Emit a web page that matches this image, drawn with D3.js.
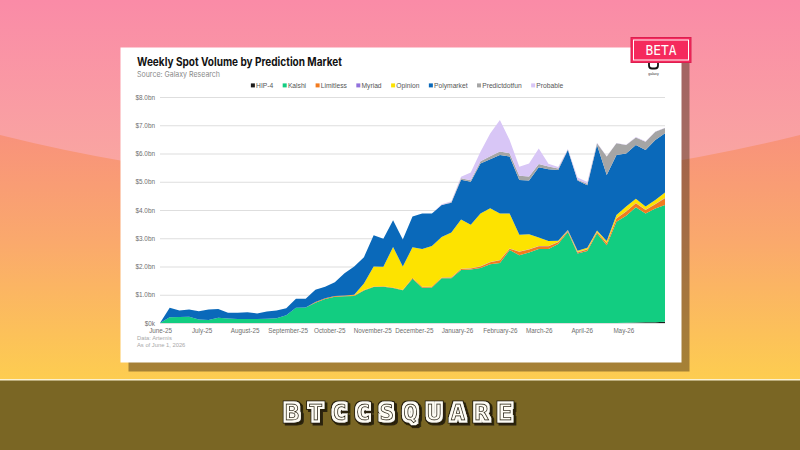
<!DOCTYPE html>
<html>
<head>
<meta charset="utf-8">
<script src="https://cdn.jsdelivr.net/npm/d3@7"></script>
<style>
    body { margin: 0; background: #fff; }
    svg { display: block; }
</style>
</head>
<body>
<div id="chart"></div>
<script>
// weekly values, $bn, one entry per week starting June 1, 2025
let hip4 = [0,0,0,0,0,0,0,0,0,0, 0,0,0,0,0,0,0,0,0,0, 0,0,0,0,0,0,0,0,0,0, 0,0,0,0,0,0,0,0,0,0, 0,0,0,0,0,0,0,0,.01,.02, .03,.03,.04];
let kalshi = [0,.20,.21,.22,.12,.11,.19,.16,.14,.14, .14,.15,.17,.27,.54,.55,.72,.85,.93,.95, .96,1.15,1.27,1.28,1.24,1.16,1.57,1.25,1.26,1.58, 1.58,1.88,1.89,1.95,2.08,2.12,2.58,2.40,2.50,2.62, 2.62,2.80,3.22,2.46,2.55,3.18,2.75,3.58,3.79,4.08, 3.85,4.02,4.14];
let limitless = [0,0,0,0,0,0,0,0,0,0, 0,0,0,0,0,0,.02,.03,.03,.02, .02,.02,.02,.02,.02,.02,.03,.03,.03,.03, .03,.03,.04,.05,.07,.10,.05,.12,.10,.10, .10,.06,.04,.04,.05,.04,.07,.12,.15,.14, .12,.15,.24];
let myriad = [0,0,0,0,0,0,0,0,0,0, 0,0,0,0,0,0,0,0,0,0, 0,0,0,0,0,0,0,0,0,0, .01,.01,.01,.01,.01,.01,.01,.01,.01,.01, .01,.01,.01,.01,.01,.01,.01,.01,.01,.01, .01,.01,.01];
let opinion = [0,0,0,0,0,0,0,0,0,0, 0,0,0,0,0,0,0,0,0,0, .02,.23,.71,.69,1.43,.82,1.08,1.34,1.44,1.43, 1.58,1.74,1.54,1.87,1.90,1.65,1.24,.59,.53,.30, .17,.04,.02,.05,.05,.04,.07,.11,.16,.15, .11,.14,.19];
let polymarket = [0,.34,.23,.26,.30,.37,.31,.20,.22,.24, .20,.26,.27,.25,.32,.31,.44,.40,.48,.79, 1.00,.93,1.11,.99,.95,.96,1.09,1.26,1.15,1.14, 1.06,1.41,1.52,1.77,1.74,2.07,2.01,1.94,1.90,2.48, 2.54,2.51,2.83,2.48,2.22,3.03,2.34,2.13,1.88,1.90, 2.00,2.13,2.10];
let predictdotfun = [0,0,0,0,0,0,0,0,0,0, 0,0,0,0,0,0,0,0,0,0, 0,0,0,0,0,0,0,0,0,0, .02,.05,.05,.08,.10,.12,.12,.15,.15,.12, .10,.05,.02,.03,.05,.06,.65,.41,.30,.27, .30,.29,.18];
let probable = [0,0,0,0,0,0,0,0,0,0, 0,0,0,0,0,0,0,0,0,0, 0,0,0,0,0,0,0,0,0,.02, .03,.06,.28,.33,.81,1.12,.47,.32,.46,.55, .10,.05,.02,.08,.06,.02,.01,.01,.01,.01, .01,.01,.01];

let seriesNames = ["HIP-4", "Kalshi", "Limitless", "Myriad", "Opinion", "Polymarket", "Predictdotfun", "Probable"];
let seriesValues = [hip4, kalshi, limitless, myriad, opinion, polymarket, predictdotfun, probable];
let seriesColors = ["#1c1c1c", "#12cd81", "#f27b1f", "#9272dc", "#fde300", "#0a69ba", "#a5a5a5", "#d8c6f6"];

let monthLabels = ["June-25", "July-25", "August-25", "September-25", "October-25", "November-25",
    "December-25", "January-26", "February-26", "March-26", "April-26", "May-26"];
let yTickValues = [0, 1, 2, 3, 4, 5, 6, 7, 8];
let yTickLabels = ["$0k", "$1.0bn", "$2.0bn", "$3.0bn", "$4.0bn", "$5.0bn", "$6.0bn", "$7.0bn", "$8.0bn"];
let brandLetters = ["B", "T", "C", "C", "S", "Q", "U", "A", "R", "E"];

let firstWeek = new Date(2025, 5, 1);
let weeks = d3.range(kalshi.length).map(function(i) { return d3.timeDay.offset(firstWeek, i * 7); });
let rows = weeks.map(function(w, i) {
    let r = {date: w};
    seriesNames.forEach(function(n, k) { r[n] = seriesValues[k][i]; });
    return r;
});

let w = 800, h = 450;
let svg = d3.select("#chart").append("svg").attr("width", w).attr("height", h);
let defs = svg.append("defs");

let sky = defs.append("linearGradient").attr("id", "sky")
    .attr("gradientUnits", "userSpaceOnUse").attr("x1", 0).attr("y1", 0).attr("x2", 0).attr("y2", 190);
sky.append("stop").attr("offset", "0%").attr("stop-color", "#fa8ba7");
sky.append("stop").attr("offset", "100%").attr("stop-color", "#f9aaa0");

let warm = defs.append("linearGradient").attr("id", "warm")
    .attr("gradientUnits", "userSpaceOnUse").attr("x1", 0).attr("y1", 130).attr("x2", 0).attr("y2", 380);
warm.append("stop").attr("offset", "0%").attr("stop-color", "#f8917c");
warm.append("stop").attr("offset", "45%").attr("stop-color", "#faa96c");
warm.append("stop").attr("offset", "100%").attr("stop-color", "#fdcd50");

// blocky outlined letters for the footer word mark
let blocky = defs.append("filter").attr("id", "blocky")
    .attr("x", "-40%").attr("y", "-40%").attr("width", "180%").attr("height", "180%");
blocky.append("feMorphology").attr("in", "SourceAlpha").attr("operator", "dilate").attr("radius", 2.6).attr("result", "outer");
blocky.append("feFlood").attr("flood-color", "#2b240f").attr("result", "dark");
blocky.append("feComposite").attr("in", "dark").attr("in2", "outer").attr("operator", "in").attr("result", "darkOuter");
blocky.append("feOffset").attr("in", "darkOuter").attr("dx", 2).attr("dy", 2).attr("result", "shadow");
blocky.append("feMorphology").attr("in", "SourceAlpha").attr("operator", "dilate").attr("radius", 1.8).attr("result", "inner");
blocky.append("feFlood").attr("flood-color", "#fffdf5").attr("result", "light");
blocky.append("feComposite").attr("in", "light").attr("in2", "inner").attr("operator", "in").attr("result", "lightInner");
let merge = blocky.append("feMerge");
merge.append("feMergeNode").attr("in", "shadow");
merge.append("feMergeNode").attr("in", "darkOuter");
merge.append("feMergeNode").attr("in", "lightInner");
merge.append("feMergeNode").attr("in", "SourceGraphic");

// background
svg.append("rect").attr("width", w).attr("height", 380).attr("fill", "url(#warm)");
svg.append("path")
    .attr("d", "M0,0 L800,0 L800,135 Q400,235 0,135 Z")
    .attr("fill", "url(#sky)");
svg.append("rect").attr("y", 380).attr("width", w).attr("height", 70).attr("fill", "#7a6624");
svg.append("rect").attr("y", 379).attr("width", w).attr("height", 1.5).attr("fill", "#fbf1cf");

// card
let card = {x: 120.5, y: 47.5, w: 561, h: 315};
svg.append("rect")
    .attr("x", card.x + 8).attr("y", card.y + 9)
    .attr("width", card.w).attr("height", card.h)
    .attr("fill", "rgb(60,40,20)").attr("fill-opacity", 0.45);
svg.append("rect")
    .attr("x", card.x).attr("y", card.y)
    .attr("width", card.w).attr("height", card.h)
    .attr("fill", "#fff");

svg.append("text")
    .attr("x", 137).attr("y", 66)
    .attr("textLength", 205).attr("lengthAdjust", "spacingAndGlyphs")
    .style("font-family", "Inter, 'Liberation Sans', sans-serif")
    .style("font-weight", 700).style("font-size", "11.5px").style("fill", "#111")
    .text("Weekly Spot Volume by Prediction Market");
svg.append("text")
    .attr("x", 137).attr("y", 76.5)
    .attr("textLength", 83).attr("lengthAdjust", "spacingAndGlyphs")
    .style("font-family", "Inter, 'Liberation Sans', sans-serif")
    .style("font-size", "7.5px").style("fill", "#8a8a8a")
    .text("Source: Galaxy Research");

// legend
let legend = svg.append("g").attr("class", "legend");
let lx = 250;
seriesNames.forEach(function(n, i) {
    legend.append("rect")
        .attr("x", lx).attr("y", 83.4)
        .attr("width", 4).attr("height", 4)
        .style("fill", seriesColors[i]);
    let t = legend.append("text")
        .attr("x", lx + 5.2).attr("y", 88)
        .style("font-family", "'Liberation Sans', Arial, sans-serif")
        .style("font-size", "6.7px").style("fill", "#555")
        .text(n);
    lx = lx + 5.2 + t.node().getComputedTextLength() + 9.5;
});
let legendWidth = lx - 9.5 - 250;
legend.attr("transform", "translate(" + (407 - 250 - legendWidth / 2) + ",0)");

// scales
let x = d3.scaleTime().domain([weeks[0], weeks[weeks.length - 1]]).range([160, 665]);
let y = d3.scaleLinear().domain([0, 8]).range([323, 97]);

let yAxis = svg.append("g")
    .attr("transform", "translate(160,0)")
    .call(d3.axisLeft(y)
        .tickValues(yTickValues)
        .tickSize(-505)
        .tickPadding(5)
        .tickFormat(function(d, i) { return yTickLabels[i]; }));
yAxis.select(".domain").remove();
yAxis.selectAll("line").style("stroke", "#dedede").style("stroke-width", 1.2);
yAxis.selectAll("text")
    .style("font-family", "'Liberation Sans', Arial, sans-serif")
    .style("font-size", "6.4px").style("fill", "#6f6f6f");

let stack = d3.stack().keys(seriesNames).order(d3.stackOrderNone);
let layers = stack(rows);

let area = d3.area()
    .x(function(d) { return x(d.data.date); })
    .y0(function(d) { return y(d[0]); })
    .y1(function(d) { return y(d[1]); });

svg.append("g").selectAll("path")
    .data(layers)
    .enter()
    .append("path")
    .attr("d", area)
    .attr("fill", function(d, i) { return seriesColors[i]; });

let monthStarts = d3.timeMonth.range(new Date(2025, 5, 1), new Date(2026, 5, 1));
let xAxis = svg.append("g")
    .attr("transform", "translate(0,323)")
    .call(d3.axisBottom(x)
        .tickValues(monthStarts)
        .tickSize(0)
        .tickPadding(5.5)
        .tickFormat(function(d, i) { return monthLabels[i]; }));
xAxis.select(".domain").remove();
xAxis.selectAll("text")
    .style("font-family", "'Liberation Sans', Arial, sans-serif")
    .style("font-size", "6.3px").style("fill", "#6f6f6f");

svg.append("text").attr("x", 137).attr("y", 340)
    .style("font-family", "'Liberation Sans', Arial, sans-serif")
    .style("font-size", "5.8px").style("fill", "#a8a8a8")
    .text("Data: Artemis");
svg.append("text").attr("x", 137).attr("y", 346.5)
    .style("font-family", "'Liberation Sans', Arial, sans-serif")
    .style("font-size", "5.8px").style("fill", "#a8a8a8")
    .text("As of June 1, 2026");

// galaxy logo (partly under the badge)
svg.append("path")
    .attr("d", "M649,56 L649,65.5 Q649,68.5 652,68.5 L655,68.5 Q658,68.5 658,65.5 L658,56")
    .attr("fill", "none").attr("stroke", "#111").attr("stroke-width", 1.8);
svg.append("text").attr("x", 653.5).attr("y", 74.5)
    .attr("text-anchor", "middle")
    .style("font-family", "'Liberation Sans', Arial, sans-serif")
    .style("font-size", "3.6px").style("fill", "#333")
    .text("galaxy");

// BETA badge
svg.append("rect")
    .attr("x", 631).attr("y", 37.5).attr("width", 60).attr("height", 25)
    .attr("fill", "#f52a5d").attr("stroke", "#dc1f50");
svg.append("rect")
    .attr("x", 633.5).attr("y", 40).attr("width", 55).attr("height", 20)
    .attr("fill", "none").attr("stroke", "#fff").attr("stroke-width", 1);
svg.append("text")
    .attr("x", 661).attr("y", 50.5).attr("dy", ".35em")
    .attr("text-anchor", "middle")
    .attr("textLength", 31).attr("lengthAdjust", "spacingAndGlyphs")
    .style("font-family", "'DejaVu Sans Mono', monospace")
    .style("font-size", "14px").style("fill", "#fff")
    .text("BETA");

// footer word mark
svg.append("g").selectAll("text")
    .data(brandLetters)
    .enter()
    .append("text")
    .attr("x", function(d, i) { return 292 + i * 23.7; })
    .attr("y", 420)
    .attr("text-anchor", "middle")
    .attr("textLength", 14.5).attr("lengthAdjust", "spacingAndGlyphs")
    .attr("filter", "url(#blocky)")
    .style("font-family", "'DejaVu Sans Mono', monospace")
    .style("font-weight", "bold").style("font-size", "22px")
    .style("fill", "#fffdf5").style("stroke", "#2b240f").style("stroke-width", 0.8)
    .text(function(d) { return d; });
</script>
</body>
</html>
